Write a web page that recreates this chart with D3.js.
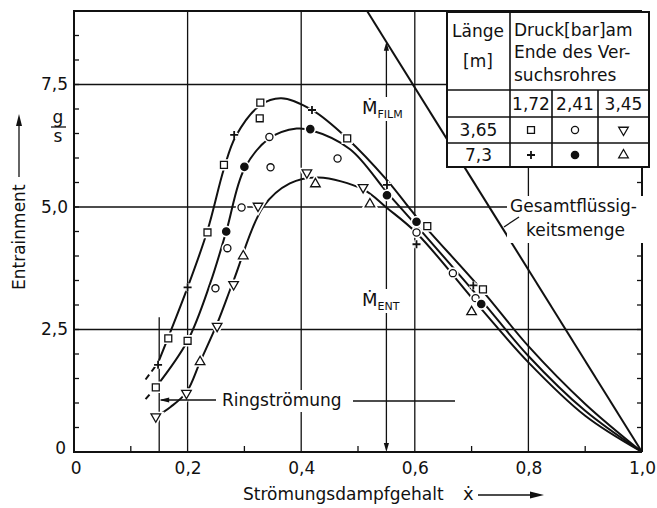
<!DOCTYPE html>
<html>
<head>
<meta charset="utf-8">
<script src="https://cdn.jsdelivr.net/npm/d3@7"></script>
<style>
  html, body { margin: 0; padding: 0; background: #fff; }
  svg { display: block; }
  text { font-family: "DejaVu Sans", "Liberation Sans", sans-serif; fill: #111; }
</style>
</head>
<body>
<svg id="chart" width="657" height="508"></svg>
<script>
// ---- data -------------------------------------------------------------
// measured points, one list per symbol (tube length / outlet pressure)
const squares   = [[0.144,1.32],[0.166,2.32],[0.200,2.27],[0.235,4.48],[0.264,5.86],[0.327,6.81],[0.328,7.13],[0.481,6.40],[0.622,4.61],[0.720,3.32]];
const pluses    = [[0.148,1.78],[0.200,3.36],[0.282,6.47],[0.419,6.98],[0.551,5.45],[0.603,4.24],[0.703,3.40]];
const circles   = [[0.249,3.34],[0.270,4.16],[0.295,4.99],[0.344,6.43],[0.346,5.81],[0.464,5.99],[0.603,4.48],[0.667,3.65],[0.707,3.14]];
const dots      = [[0.268,4.50],[0.300,5.82],[0.416,6.59],[0.551,5.24],[0.603,4.70],[0.717,3.02]];
const trisDown  = [[0.144,0.72],[0.198,1.20],[0.252,2.57],[0.281,3.42],[0.324,5.02],[0.410,5.70],[0.509,5.40]];
const trisUp    = [[0.222,1.84],[0.298,4.00],[0.425,5.47],[0.521,5.06],[0.700,2.86]];

// fitted curves for the three outlet pressures
const curve172 = [[0.148,1.82],[0.200,3.36],[0.235,4.52],[0.264,5.78],[0.285,6.45],[0.328,7.08],[0.365,7.22],[0.419,6.98],[0.481,6.40],[0.551,5.55],[0.603,4.80],[0.717,3.32],[0.800,2.16],[0.900,0.98],[1.000,0.00]];
const curve241 = [[0.144,1.32],[0.200,2.27],[0.240,3.45],[0.268,4.50],[0.300,5.78],[0.344,6.40],[0.392,6.60],[0.416,6.57],[0.486,6.18],[0.551,5.30],[0.603,4.62],[0.717,3.10],[0.800,1.96],[0.900,0.84],[1.000,0.00]];
const curve345 = [[0.144,0.72],[0.170,0.92],[0.198,1.22],[0.222,1.84],[0.252,2.62],[0.281,3.50],[0.333,5.00],[0.380,5.48],[0.430,5.60],[0.509,5.36],[0.551,4.98],[0.603,4.47],[0.717,2.92],[0.800,1.83],[0.900,0.74],[1.000,0.00]];
// dashed continuation below the annular-flow limit
const lead172 = [[0.126,1.48],[0.148,1.82]];
const lead241 = [[0.126,1.08],[0.144,1.32]];

// total liquid flow line
const totalLiquid = [[0.516,9.0],[1.0,0.0]];

// axis ticks
const xTickValues = [0, 0.2, 0.4, 0.6, 0.8, 1.0];
const xTickLabels = ["0", "0,2", "0,4", "0,6", "0,8", "1,0"];
const yTickValues = [0, 2.5, 5.0, 7.5];
const yTickLabels = ["0", "2,5", "5,0", "7,5"];
const xMinorTicks = [0.1, 0.3, 0.5, 0.7, 0.9];
const yMinorTicks = d3.range(0.5, 9.0, 0.5);

// legend table
const pressures = ["1,72", "2,41", "3,45"];
const lengths = ["3,65", "7,3"];

// ---- layout -----------------------------------------------------------
const svg = d3.select("#chart");
const x = d3.scaleLinear().domain([0, 1]).range([74, 642]);
const y = d3.scaleLinear().domain([0, 9]).range([452, 11]);
const ink = "#111";
const FS = 17;

const g = svg.append("g");

// grid lines
const grid = g.append("g").attr("stroke", ink).attr("stroke-width", 1.3);
[0.2, 0.4, 0.6, 0.8].forEach(v => {
  grid.append("line").attr("x1", x(v)).attr("x2", x(v)).attr("y1", y(0)).attr("y2", y(9));
});
[2.5, 5.0, 7.5].forEach(v => {
  grid.append("line").attr("x1", x(0)).attr("x2", x(1)).attr("y1", y(v)).attr("y2", y(v));
});
// annular-flow limit and film / entrainment marker line
grid.append("line").attr("x1", x(0.15)).attr("x2", x(0.15)).attr("y1", y(0)).attr("y2", y(2.75));
grid.append("line").attr("x1", x(0.55)).attr("x2", x(0.55)).attr("y1", y(0) - 6).attr("y2", y(18.6 * 0.45) + 6);

// arrow heads
function arrowHead(px, py, dir, len = 9, half = 2.6) {
  const bx = px - Math.cos(dir) * len, by = py - Math.sin(dir) * len;
  const nx = -Math.sin(dir) * half, ny = Math.cos(dir) * half;
  g.append("path")
    .attr("d", `M${px},${py}L${bx + nx},${by + ny}L${bx - nx},${by - ny}Z`)
    .attr("fill", ink);
}
arrowHead(x(0.55), y(0), Math.PI / 2);
arrowHead(x(0.55), y(18.6 * 0.45), -Math.PI / 2);

// frame and ticks
const frame = g.append("g").attr("stroke", ink).attr("stroke-width", 2).attr("fill", "none");
frame.append("path").attr("d", `M${x(1)},${y(0)}L${x(0)},${y(0)}L${x(0)},${y(9)}L${x(1)},${y(9)}`);
frame.append("line").attr("x1", x(1)).attr("x2", x(1)).attr("y1", y(0)).attr("y2", 167);

const ticks = g.append("g").attr("stroke", ink).attr("stroke-width", 1.3);
yMinorTicks.forEach(v => {
  ticks.append("line").attr("x1", x(0)).attr("x2", x(0) + 5).attr("y1", y(v)).attr("y2", y(v));
  if (y(v) > 167) ticks.append("line").attr("x1", x(1)).attr("x2", x(1) - 5).attr("y1", y(v)).attr("y2", y(v));
});
xMinorTicks.forEach(v => {
  ticks.append("line").attr("x1", x(v)).attr("x2", x(v)).attr("y1", y(0)).attr("y2", y(0) - 6);
});

// axis labels via d3 axes (no domain / tick lines)
const xAxis = d3.axisBottom(x).tickValues(xTickValues).tickSize(0).tickPadding(6)
  .tickFormat((d, i) => xTickLabels[i]);
const yAxis = d3.axisLeft(y).tickValues(yTickValues).tickSize(0).tickPadding(6)
  .tickFormat((d, i) => yTickLabels[i]);
const gx = svg.append("g").attr("transform", `translate(0,${y(0)})`).call(xAxis);
const gy = svg.append("g").attr("transform", `translate(${x(0)},0)`).call(yAxis);
[gx, gy].forEach(a => {
  a.select(".domain").remove();
  a.selectAll("text").attr("font-size", FS).attr("font-family", null).style("fill", ink);
});
gx.selectAll("text").attr("dy", "0.95em");
gy.selectAll(".tick").filter(d => d === 0).select("text").attr("dy", "0.1em").attr("x", -8);
gx.selectAll(".tick").filter(d => d === 0).select("text").attr("dx", "0.1em");

// total liquid line
const line = d3.line().x(d => x(d[0])).y(d => y(d[1]));
g.append("path").attr("d", line(totalLiquid)).attr("stroke", ink).attr("stroke-width", 2).attr("fill", "none");

// fitted curves
const smooth = d3.line().x(d => x(d[0])).y(d => y(d[1])).curve(d3.curveCatmullRom.alpha(0.5));
[curve172, curve241, curve345].forEach(c => {
  g.append("path").attr("d", smooth(c)).attr("stroke", ink).attr("stroke-width", 2).attr("fill", "none");
});
[lead172, lead241].forEach(c => {
  g.append("path").attr("d", line(c)).attr("stroke", ink).attr("stroke-width", 2)
    .attr("stroke-dasharray", "6,4").attr("fill", "none");
});

// markers
const symPaths = {
  square: d3.symbol().type(d3.symbolSquare).size(48)(),
  circle: d3.symbol().type(d3.symbolCircle).size(40)(),
  dot: d3.symbol().type(d3.symbolCircle).size(42)(),
  triUp: d3.symbol().type(d3.symbolTriangle).size(40)(),
  triDown: d3.symbol().type(d3.symbolTriangle).size(40)(),
  plus: "M-4,0H4M0,-4V4"
};
function drawMarker(parent, kind, px, py) {
  const rot = kind === "triDown" ? " rotate(180)" : "";
  const tr = `translate(${px},${py})${rot}`;
  const filled = kind === "dot";
  parent.append("path").attr("d", symPaths[kind]).attr("transform", tr)
    .attr("fill", "#fff").attr("stroke", "#fff").attr("stroke-width", 4.5);
  parent.append("path").attr("d", symPaths[kind]).attr("transform", tr)
    .attr("fill", filled ? ink : (kind === "plus" ? "none" : "#fff"))
    .attr("stroke", ink).attr("stroke-width", kind === "plus" ? 1.8 : 1.3);
}
const markerLayer = g.append("g");
[[squares, "square"], [pluses, "plus"], [circles, "circle"], [dots, "dot"], [trisDown, "triDown"], [trisUp, "triUp"]]
  .forEach(([pts, kind]) => pts.forEach(p => drawMarker(markerLayer, kind, x(p[0]), y(p[1]))));

// text helpers
function label(txt, px, py, size = FS, anchor = "start") {
  return svg.append("text").attr("x", px).attr("y", py).attr("font-size", size)
    .attr("text-anchor", anchor).text(txt);
}
function whiteBox(x0, y0, w, h) {
  g.append("rect").attr("x", x0).attr("y", y0).attr("width", w).attr("height", h).attr("fill", "#fff");
}

// Ringströmung
whiteBox(218, 390, 134, 22);
label("Ringströmung", 222, 406);
g.append("line").attr("x1", 216).attr("x2", x(0.15) + 2).attr("y1", 400).attr("y2", 400).attr("stroke", ink).attr("stroke-width", 1.3);
arrowHead(x(0.15), 400, Math.PI, 10, 2.5);
g.append("line").attr("x1", 353).attr("x2", 455).attr("y1", 401).attr("y2", 401).attr("stroke", ink).attr("stroke-width", 1.3);

// Ṁ labels on the x = 0.55 line
function mdot(px, py, sub) {
  whiteBox(px - 2, py - 17, 48, 24);
  const t = svg.append("text").attr("x", px).attr("y", py).attr("font-size", 18);
  t.append("tspan").text("Ṁ");
  t.append("tspan").attr("font-size", 11).attr("dy", 4).text(sub);
}
mdot(362, 114, "FILM");
mdot(362, 306, "ENT");

// Gesamtflüssigkeitsmenge
whiteBox(507, 196, 136, 47);
label("Gesamtflüssig-", 510, 212);
label("keitsmenge", 526, 236);
g.append("line").attr("x1", 504).attr("y1", 227).attr("x2", 519).attr("y2", 217).attr("stroke", ink).attr("stroke-width", 1.3);

// legend table
const tbl = svg.append("g");
const cx = [447, 510, 552, 598, 649];
const ry = [12, 90, 117, 143, 167];
tbl.append("rect").attr("x", cx[0]).attr("y", ry[0]).attr("width", cx[4] - cx[0]).attr("height", ry[4] - ry[0])
  .attr("fill", "#fff").attr("stroke", ink).attr("stroke-width", 2);
const tl = tbl.append("g").attr("stroke", ink).attr("stroke-width", 1.6);
tl.append("line").attr("x1", cx[1]).attr("x2", cx[1]).attr("y1", ry[0]).attr("y2", ry[4]);
[ry[1], ry[2], ry[3]].forEach(v => tl.append("line").attr("x1", cx[0]).attr("x2", cx[4]).attr("y1", v).attr("y2", v));
[cx[2], cx[3]].forEach(v => tl.append("line").attr("x1", v).attr("x2", v).attr("y1", ry[1]).attr("y2", ry[4]));
label("Länge", 478, 37, FS, "middle");
label("[m]", 478, 67, FS, "middle");
label("Druck[bar]am", 514, 36);
label("Ende des Ver-", 514, 58);
label("suchsrohres", 514, 81);
pressures.forEach((p, i) => label(p, (cx[i + 1] + cx[i + 2]) / 2, 110, FS, "middle"));
lengths.forEach((l, i) => label(l, (cx[0] + cx[1]) / 2, (ry[i + 2] + ry[i + 3]) / 2 + 6, FS, "middle"));
const legendKinds = [["square", "circle", "triDown"], ["plus", "dot", "triUp"]];
legendKinds.forEach((row, r) => row.forEach((k, c) => {
  drawMarker(tbl, k, (cx[c + 1] + cx[c + 2]) / 2, (ry[r + 2] + ry[r + 3]) / 2);
}));

// axis titles
svg.append("text").attr("transform", "translate(25,290) rotate(-90)").attr("font-size", FS).text("Entrainment");
svg.append("line").attr("x1", 19).attr("x2", 19).attr("y1", 177).attr("y2", 124).attr("stroke", ink).attr("stroke-width", 1.3);
svg.append("path").attr("d", "M19,114L16,126L22,126Z").attr("fill", ink);

// g/s unit
label("g", 58, 123, FS, "middle");
svg.append("line").attr("x1", 51).attr("x2", 66).attr("y1", 127).attr("y2", 127).attr("stroke", ink).attr("stroke-width", 1.3);
label("s", 58, 142, FS, "middle");

label("Strömungsdampfgehalt", 243, 500);
label("ẋ", 463, 500, 18);
svg.append("line").attr("x1", 478).attr("x2", 532).attr("y1", 495).attr("y2", 495).attr("stroke", ink).attr("stroke-width", 1.3);
svg.append("path").attr("d", "M544,495L530,491.5L530,498.5Z").attr("fill", ink);
</script>
</body>
</html>
